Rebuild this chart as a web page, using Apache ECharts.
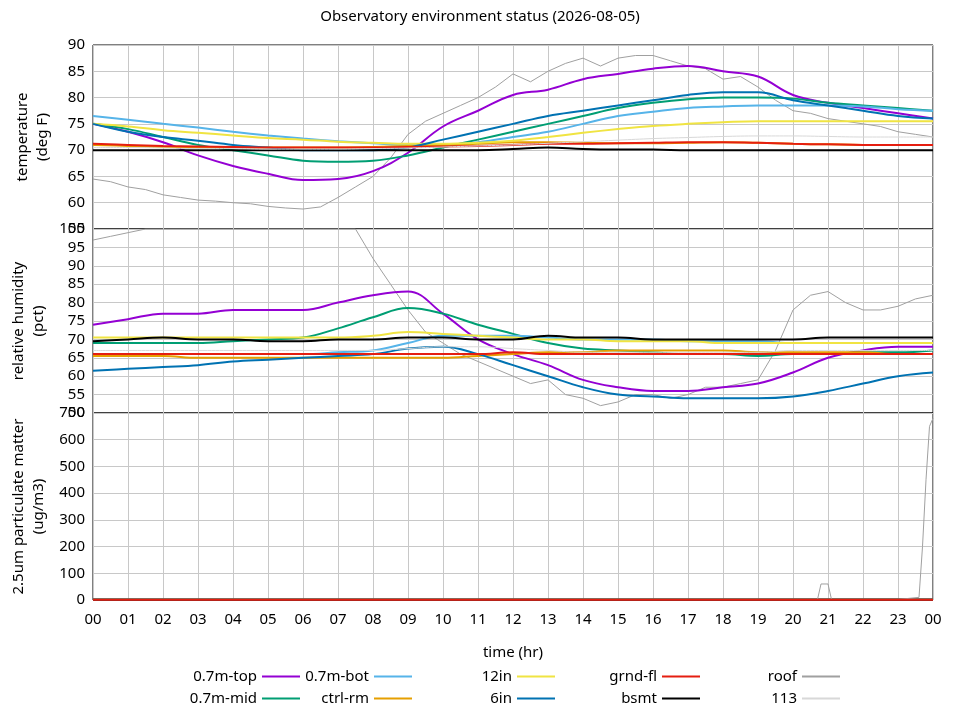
<!DOCTYPE html>
<html><head><meta charset="utf-8">
<script src="https://cdn.jsdelivr.net/npm/echarts@6/dist/echarts.min.js"></script>
<style>body{margin:0}#c{width:960px;height:720px}</style></head>
<body><div id="c"></div>
<script>
const hours=[0,1,2,3,4,5,6,7,8,9,10,11,12,13,14,15,16,17,18,19,20,21,22,23,24];
const roofHours=[0,0.5,1,1.5,2,2.5,3,3.5,4,4.5,5,5.5,6,6.5,7,7.5,8,8.5,9,9.5,10,10.5,11,11.5,12,12.5,13,13.5,14,14.5,15,15.5,16,16.5,17,17.5,18,18.5,19,19.5,20,20.5,21,21.5,22,22.5,23,23.5,24];
const names=['0.7m-top','0.7m-mid','0.7m-bot','ctrl-rm','12in','6in','grnd-fl','bsmt','roof','113'];
const colors=['#9400d3','#009e73','#56b4e9','#e69f00','#f0e442','#0072b2','#e51e10','#000000','#a0a0a0','#d8d8d8'];
// temperature (deg F), hourly
const tTop=[75,73.5,71.5,69,67,65.5,64.3,64.5,66,69.5,74.5,77.5,80.5,81.5,83.5,84.5,85.5,86,85,84,80.5,79,78,77,76];
const tMid=[75,74,72.5,71,70,69,68,67.8,68,69,70.5,72,73.5,75,76.5,78,79,79.7,80,80,79.8,79,78.5,78,77.5];
const tBot=[76.5,75.8,75,74.3,73.5,72.8,72.2,71.7,71.3,71,71,71.5,72.5,73.5,75,76.5,77.3,78,78.3,78.5,78.5,78.5,78.3,77.8,77.5];
const tCtrl=[71,70.8,70.6,70.5,70.5,70.5,70.5,70.5,70.6,70.8,71,71.2,71.5,71.5,71.4,71.3,71.3,71.4,71.5,71.4,71.2,71.1,71,71,71];
const t12in=[75,74.5,73.8,73.3,72.8,72.3,72,71.6,71.4,71.2,71.2,71.4,71.8,72.5,73.3,74,74.6,75,75.3,75.5,75.5,75.5,75.5,75.5,75.5];
const t6in=[75,73.5,72.5,71.8,71,70.5,70,70,70,70.5,72,73.5,75,76.5,77.5,78.5,79.5,80.5,81,81,79.5,78.5,77.5,76.5,76];
const tGrnd=[71.2,71,70.8,70.7,70.6,70.5,70.5,70.5,70.5,70.6,70.7,70.8,71,71.2,71.2,71.3,71.4,71.5,71.5,71.4,71.2,71.1,71,71,71];
const tBsmt=[70,70,70,70,70,70,70,70,70,70,70,70,70.2,70.5,70.2,70.1,70.1,70,70,70,70,70,70,70,70];
const tRoof=[64.5,64,63,62.5,61.5,61,60.5,60.3,60,59.8,59.3,59,58.8,59.2,61,63,65,68.5,73,75.5,77,78.5,80,82,84.5,83,85,86.5,87.5,86,87.5,88,88,87,86,85.5,83.5,84,82,79.5,77.5,77,76,75.5,75,74.5,73.5,73,72.5];
const t113=[70.5,70.5,70.4,70.3,70.3,70.2,70.2,70.2,70.3,70.4,70.6,70.8,71,71.3,71.6,71.9,72.2,72.4,72.6,72.7,72.7,72.6,72.5,72.5,72.5];
// relative humidity (pct), hourly
const hTop=[74,75.5,77,77,78,78,78,80,82,83,77,70,66,63,59,57,56,56,57,58,61,65,67,68,68];
const hMid=[69,69,69,69,69.5,70,70.5,73,76,78.5,77,74,71.5,69,67.5,67,66.5,66,66,65.5,66,66,66.5,66.5,67];
const hBot=[66,66,66,66,66,66,66,66.5,67,69,71,71,71,70.5,70,70,70,69.5,69.5,69.5,69,69,69,69,69];
const hCtrl=[65.5,65.5,65.5,65,65,65,65,65,65,65,65,65.5,66,66.5,66.5,67,67,67,67,66.5,66.5,66.5,66.5,66,66];
const h12in=[70.5,70.5,70.5,70.5,70.5,70.5,70.5,70.5,71,72,71.5,71,70.5,70,70,69.5,69.5,69.5,69,69,69,69,69,69,69];
const h6in=[61.5,62,62.5,63,64,64.5,65,65.5,66,67.5,68,66,63,60,57,55,54.5,54,54,54,54.5,56,58,60,61];
const hGrnd=[66,66,66,66,66,66,66,66,66,66,66,66,66.5,66,66,66,66,66,66,66,66,66,66,66,66];
const hBsmt=[69.5,70,70.5,70,70,69.5,69.5,70,70,70.5,70.5,70,70,71,70.5,70.5,70,70,70,70,70,70.5,70.5,70.5,70.5];
const hRoof=[97,98,99,100,100,100,100,100,100,100,100,100,100,100,100,100,92,85,78,72,69,66,64,62,60,58,59,55,54,52,53,55,55,54,55,57,57,58,59,67,78,82,83,80,78,78,79,81,82];
const h113=[67,67,67,67,67,67,67,67,67,67.5,68,68,67.5,67,66.5,66.5,66.5,66.5,66.5,66.5,67,67,67,67,67];
// 2.5um particulate matter (ug/m3)
const pmHours=[0,4,8,12,16,20,20.7,20.8,21,21.1,22,23,23.6,23.7,23.8,23.9,24];
const pmRoof=[2,2,2,2,2,2,2,60,60,2,2,2,10,200,450,650,680];
const pmLow=[1,1,1,1,1,1,1,1,1,1,1,1,1,1,1,1,1];

const temp=[tTop,tMid,tBot,tCtrl,t12in,t6in,tGrnd,tBsmt,tRoof,t113];
const hum=[hTop,hMid,hBot,hCtrl,h12in,h6in,hGrnd,hBsmt,hRoof,h113];
const series=[];
names.forEach((n,i)=>{
  const tx=(i===8)?roofHours:hours;
  const lw=(i>=8)?1:2;
  const sm=i===8?false:0.4;
  series.push({name:n,type:'line',xAxisIndex:0,yAxisIndex:0,showSymbol:false,smooth:sm,color:colors[i],lineStyle:{width:lw},data:tx.map((h,k)=>[h,temp[i][k]]),z:i===8?1:2});
  series.push({name:n,type:'line',xAxisIndex:1,yAxisIndex:1,showSymbol:false,smooth:sm,color:colors[i],lineStyle:{width:lw},data:tx.map((h,k)=>[h,hum[i][k]]),z:i===8?1:2});
  series.push({name:n,type:'line',xAxisIndex:2,yAxisIndex:2,showSymbol:false,color:colors[i],lineStyle:{width:lw},data:pmHours.map((h,k)=>[h,i===8?pmRoof[k]:pmLow[k]]),z:i===6?3:2});
});
const fmt=v=>String(v%24).padStart(2,'0');
const split={show:true,lineStyle:{color:'#c8c8c8',width:1}};
const lab={color:'#000',fontSize:15,fontFamily:'Noto Sans'};
function xa(i,show){return {type:'value',gridIndex:i,min:0,max:24,interval:1,axisLabel:show?{...lab,formatter:fmt,margin:12}:{show:false},axisTick:{show:false},axisLine:{show:false},splitLine:split,
 name:show?'time (hr)':'',nameLocation:'middle',nameGap:45,nameTextStyle:lab};}
function ya(i,min,max,interval,name){return {type:'value',gridIndex:i,min,max,interval,axisLabel:{...lab,margin:8},axisTick:{show:false},axisLine:{show:false},splitLine:split,
 name,nameLocation:'middle',nameGap:40,nameTextStyle:{...lab,lineHeight:20}};}
const legText={color:'#000',fontSize:15,fontFamily:'Noto Sans'};
// legend layout: [name, right edge offset, top]
const legPos=[['0.7m-top',660,669],['0.7m-mid',660,691],['0.7m-bot',548,669],['ctrl-rm',548,691],['12in',405,669],['6in',405,691],['grnd-fl',260,669],['bsmt',260,691],['roof',120,669],['113',120,691]];
const legend=legPos.map(([n,r,t])=>({data:[n],right:r,top:t,align:'right',itemWidth:38,itemHeight:2,icon:'rect',textStyle:legText,padding:0}));
const chart=echarts.init(document.getElementById('c'));
chart.setOption({
 animation:false,backgroundColor:'#fff',
 textStyle:{fontFamily:'Noto Sans'},
 title:{text:'Observatory environment status (2026-08-05)',left:'center',top:4,textStyle:{fontSize:15,fontWeight:'normal',color:'#000',fontFamily:'Noto Sans'}},
 grid:[{left:93,right:27,top:45,height:184,show:true,borderColor:'#000',borderWidth:1},
       {left:93,right:27,top:229,height:184,show:true,borderColor:'#000',borderWidth:1},
       {left:93,right:27,top:413,height:187,show:true,borderColor:'#000',borderWidth:1}],
 xAxis:[xa(0,false),xa(1,false),xa(2,true)],
 yAxis:[ya(0,55,90,5,'temperature\n(deg F)'),ya(1,50,100,5,'relative humidity\n(pct)'),ya(2,0,700,100,'2.5um particulate matter\n(ug/m3)')],
 legend,
 series
});
</script></body></html>
